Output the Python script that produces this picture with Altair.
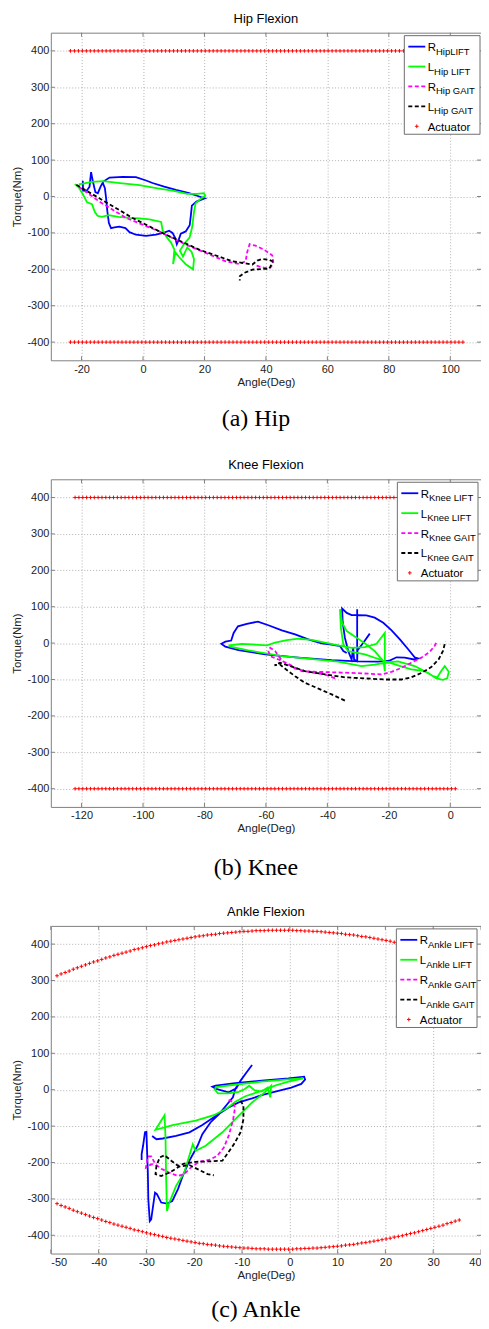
import altair as alt
import pandas as pd

# ---------------- data ----------------
Y_TICKS = [-400, -300, -200, -100, 0, 100, 200, 300, 400]
HIP_X_TICKS = [-20, 0, 20, 40, 60, 80, 100]
KNEE_X_TICKS = [-120, -100, -80, -60, -40, -20, 0]
ANKLE_X_TICKS = [-50, -40, -30, -20, -10, 0, 10, 20, 30, 40]

# Hip
HIP_R_LIFT_ANGLE = [-19.6, -19.5, -18.3, -17.4, -16.9, -16.3, -15.5, -14.7, -13.8, -13.1, -12.4, -12.0, -11.6, -11.1, -10.4, -9.3, -7.7, -5.7, -4.4, -2.3, 1.0, 4.2, 6.9, 8.5, 9.6, 10.5, 11.0, 11.6, 12.3, 13.9, 15.2, 15.6, 15.9, 17.4, 20.1, 18.3, 15.0, 10.7, 6.9, 3.1, 1.0, -2.3, -6.6, -10.9, -12.9, -13.8]
HIP_R_LIFT_TORQUE = [43, 16, 16, 27, 67, 41, 12, 9, 27, 38, 23, -5, -41, -73, -87, -85, -83, -87, -98, -105, -108, -105, -99, -94, -100, -114, -131, -119, -102, -96, -79, -50, -25, -14, -5, 0, 9, 18, 27, 37, 44, 53, 54, 52, 41, 27]
HIP_L_LIFT_ANGLE = [-22.2, -20.9, -19.5, -18.2, -16.6, -15.7, -14.8, -13.4, -11.2, -8.0, -4.3, -1.1, 2.1, 5.9, 6.4, 7.7, 9.1, 10.2, 9.8, 10.5, 11.8, 13.9, 16.3, 16.6, 15.8, 14.4, 13.0, 12.0, 13.4, 15.2, 16.0, 16.6, 17.1, 18.7, 20.3, 19.8, 17.6, 14.4, 9.6, 4.3, -1.1, -7.5, -12.8, -16.6, -18.7, -20.9]
HIP_L_LIFT_TORQUE = [34, 25, 5, -16, -21, -42, -53, -56, -51, -56, -59, -60, -63, -70, -93, -112, -126, -146, -186, -153, -167, -186, -200, -172, -152, -140, -165, -149, -130, -112, -84, -42, -19, -7, 2, 9, 7, 7, 16, 23, 31, 37, 42, 40, 37, 33]
HIP_R_GAIT_ANGLE = [-20.9, -14.2, -5.5, 5.3, 13.9, 20.4, 26.9, 31.2, 33.4, 33.9, 34.7, 36.6, 39.4, 42.1, 42.4, 41.5, 39.4, 36.6]
HIP_R_GAIT_TORQUE = [27, -14, -59, -96, -132, -155, -178, -185, -178, -153, -131, -135, -146, -162, -183, -195, -196, -189]
HIP_L_GAIT_ANGLE = [-21.7, -14.2, -3.4, 7.5, 18.3, 29.1, 35.6, 37.2, 38.8, 41.0, 42.1, 41.5, 41.0, 38.8, 35.6, 32.9, 31.5, 31.5]
HIP_L_GAIT_TORQUE = [32, -5, -59, -105, -146, -178, -187, -176, -172, -174, -178, -192, -199, -199, -201, -210, -219, -231]
HIP_ACT_ANGLE = [-23.6, -22.31, -21.02, -19.73, -18.44, -17.15, -15.86, -14.57, -13.28, -11.99, -10.7, -9.41, -8.12, -6.83, -5.54, -4.25, -2.96, -1.67, -0.38, 0.91, 2.2, 3.49, 4.78, 6.07, 7.36, 8.65, 9.94, 11.23, 12.52, 13.81, 15.1, 16.39, 17.68, 18.97, 20.26, 21.55, 22.84, 24.13, 25.42, 26.71, 28.0, 29.29, 30.58, 31.87, 33.16, 34.45, 35.74, 37.03, 38.32, 39.61, 40.9, 42.19, 43.48, 44.77, 46.06, 47.35, 48.64, 49.93, 51.22, 52.51, 53.8, 55.09, 56.38, 57.67, 58.96, 60.25, 61.54, 62.83, 64.12, 65.41, 66.7, 67.99, 69.28, 70.57, 71.86, 73.15, 74.44, 75.73, 77.02, 78.31, 79.6, 80.89, 82.18, 83.47, 84.76, 86.05, 87.34, 88.63, 89.92, 91.21, 92.5, 93.79, 95.08, 96.37, 97.66, 98.95, 100.24, 101.53, 102.82, 104.11]
HIP_ACT_TORQUE = 400

# Knee
KNEE_R_LIFT_ANGLE = [-26.2, -28.3, -30.2, -30.3, -30.3, -30.3, -31.3, -31.6, -32.1, -33.2, -34.3, -35.0, -35.2, -33.7, -32.1, -30.0, -27.3, -24.6, -21.8, -19.1, -16.4, -13.7, -11.6, -10.5, -11.8, -14.8, -17.5, -19.7, -23.5, -30.0, -38.6, -49.4, -60.2, -68.9, -73.2, -74.5, -73.2, -71.3, -70.5, -69.1, -66.2, -62.6, -59.2, -54.8, -50.5, -46.2, -41.9, -38.6, -35.9, -34.8, -33.7]
KNEE_R_LIFT_TORQUE = [26, 1, -20, -50, 93, -50, -45, -13, -45, -22, 15, 56, 95, 83, 77, 77, 76, 70, 56, 35, 10, -17, -39, -42, -45, -40, -39, -48, -51, -50, -47, -40, -31, -19, -10, -2, 4, 7, 28, 46, 53, 59, 49, 35, 24, 10, -1, -4, -8, -22, -27]
KNEE_L_LIFT_ANGLE = [-72.1, -67.8, -59.7, -57.0, -53.2, -49.4, -45.1, -40.8, -36.5, -32.1, -27.8, -24.0, -21.3, -21.3, -21.7, -24.6, -27.3, -30.5, -33.7, -35.2, -35.9, -35.6, -34.8, -33.2, -27.8, -22.9, -17.0, -12.7, -8.3, -5.6, -4.2, -3.1, -1.8, -0.5, -1.0, -2.4, -4.5, -7.2, -11.6, -17.0, -21.3, -24.6, -28.9, -36.5, -44.0, -54.8, -65.7, -71.6, -72.1]
KNEE_L_LIFT_TORQUE = [-6, -2, -6, 1, 8, 12, 9, 1, -6, -13, -11, -2, 28, -77, -50, -22, -4, 15, 33, 56, 93, 42, -4, -22, -31, -45, -61, -72, -77, -91, -94, -79, -63, -79, -97, -101, -97, -82, -63, -50, -54, -59, -63, -51, -45, -36, -20, -10, -6]
KNEE_R_GAIT_ANGLE = [-37.5, -40.8, -46.2, -50.5, -54.3, -55.9, -57.0, -58.6, -59.2, -58.6, -55.9, -52.7, -48.4, -42.9, -35.4, -28.9, -22.4, -19.1, -15.9, -12.7, -9.4, -6.7, -5.1, -4.2]
KNEE_R_GAIT_TORQUE = [-97, -86, -79, -70, -51, -36, -22, -13, -22, -36, -45, -57, -77, -79, -81, -83, -86, -79, -68, -54, -40, -24, -8, 7]
KNEE_L_GAIT_ANGLE = [-34.3, -38.6, -42.9, -47.3, -50.5, -53.5, -55.4, -57.2, -55.4, -52.1, -47.3, -40.8, -34.3, -27.8, -21.3, -15.9, -12.7, -9.4, -6.2, -3.8, -2.4, -1.6]
KNEE_L_GAIT_TORQUE = [-158, -141, -125, -109, -91, -72, -59, -61, -54, -63, -77, -86, -94, -97, -100, -100, -94, -82, -66, -45, -22, 4]
KNEE_ACT_ANGLE = [-122.1, -120.85, -119.6, -118.35, -117.1, -115.85, -114.6, -113.35, -112.1, -110.85, -109.6, -108.35, -107.1, -105.85, -104.6, -103.35, -102.1, -100.85, -99.6, -98.35, -97.1, -95.85, -94.6, -93.35, -92.1, -90.85, -89.6, -88.35, -87.1, -85.85, -84.6, -83.35, -82.1, -80.85, -79.6, -78.35, -77.1, -75.85, -74.6, -73.35, -72.1, -70.85, -69.6, -68.35, -67.1, -65.85, -64.6, -63.35, -62.1, -60.85, -59.6, -58.35, -57.1, -55.85, -54.6, -53.35, -52.1, -50.85, -49.6, -48.35, -47.1, -45.85, -44.6, -43.35, -42.1, -40.85, -39.6, -38.35, -37.1, -35.85, -34.6, -33.35, -32.1, -30.85, -29.6, -28.35, -27.1, -25.85, -24.6, -23.35, -22.1, -20.85, -19.6, -18.35, -17.1, -15.85, -14.6, -13.35, -12.1, -10.85, -9.6, -8.35, -7.1, -5.85, -4.6, -3.35, -2.1, -0.85, 0.4, 1.65]
KNEE_ACT_TORQUE = 400

# Ankle
ANKLE_R_LIFT_ANGLE = [-31.0, -31.0, -30.7, -30.3, -30.0, -29.9, -29.7, -29.6, -29.3, -29.0, -28.6, -28.2, -27.8, -26.9, -25.7, -24.6, -23.4, -22.4, -21.0, -19.3, -18.3, -16.6, -14.8, -12.8, -11.9, -11.4, -10.3, -9.3, -7.9, -9.3, -10.3, -11.2, -12.8, -15.4, -16.2, -15.5, -11.4, -5.9, -0.3, 3.0, 3.2, 2.4, 0.3, -2.4, -5.9, -7.9, -10.7, -12.8, -15.5, -18.3, -21.0, -23.8, -26.6, -27.9, -28.8]
ANKLE_R_LIFT_TORQUE = [-193, -177, -154, -117, -116, -154, -228, -301, -361, -356, -319, -283, -287, -310, -313, -306, -273, -237, -195, -154, -122, -90, -67, -35, -21, 2, 25, 43, 68, 43, 25, 4, -7, 2, 8, 11, 18, 25, 31, 36, 28, 16, 6, -3, -15, -24, -35, -49, -72, -97, -117, -127, -134, -136, -127]
ANKLE_L_LIFT_ANGLE = [-25.7, -25.9, -26.0, -26.2, -28.1, -24.5, -19.7, -15.9, -13.1, -11.4, -9.3, -5.9, -3.1, -0.3, 2.8, -1.0, -5.9, -10.7, -15.4, -15.7, -15.0, -12.8, -10.7, -9.4, -8.5, -7.4, -5.9, -4.6, -4.1, -3.9, -5.2, -7.9, -11.4, -14.1, -17.6, -19.7, -20.3, -22.1, -23.8, -25.2, -25.7]
ANKLE_L_LIFT_TORQUE = [-333, -228, -136, -70, -110, -97, -85, -70, -51, -33, -18, -3, 11, 22, 31, 28, 22, 15, 7, 0, -10, -10, -6, 2, 11, -1, -5, 6, -21, 11, -7, -35, -81, -117, -154, -168, -150, -228, -264, -310, -333]
ANKLE_R_GAIT_ANGLE = [-12.8, -11.7, -11.5, -11.9, -12.8, -13.8, -15.2, -16.9, -19.0, -20.7, -22.1, -23.4, -25.2, -26.9, -28.1, -29.0, -29.7, -30.1, -29.3, -28.3]
ANKLE_R_GAIT_TORQUE = [-28, -35, -53, -85, -127, -159, -182, -193, -198, -214, -232, -237, -228, -217, -205, -183, -183, -214, -207, -202]
ANKLE_L_GAIT_ANGLE = [-10.3, -9.7, -9.7, -10.3, -11.7, -13.4, -14.1, -16.9, -19.7, -22.1, -23.4, -24.8, -26.2, -27.2, -27.9, -28.1, -26.9, -25.2, -23.1, -21.0, -19.0, -17.2, -15.9]
ANKLE_L_GAIT_TORQUE = [-30, -44, -81, -117, -150, -182, -195, -197, -198, -203, -209, -195, -180, -186, -209, -232, -237, -228, -211, -207, -220, -232, -235]
ANKLE_ACT_ANGLE = [-48.7, -47.85, -47.0, -46.15, -45.3, -44.45, -43.6, -42.75, -41.9, -41.05, -40.2, -39.35, -38.5, -37.65, -36.8, -35.95, -35.1, -34.25, -33.4, -32.55, -31.7, -30.85, -30.0, -29.15, -28.3, -27.45, -26.6, -25.75, -24.9, -24.05, -23.2, -22.35, -21.5, -20.65, -19.8, -18.95, -18.1, -17.25, -16.4, -15.55, -14.7, -13.85, -13.0, -12.15, -11.3, -10.45, -9.6, -8.75, -7.9, -7.05, -6.2, -5.35, -4.5, -3.65, -2.8, -1.95, -1.1, -0.25, 0.6, 1.45, 2.3, 3.15, 4.0, 4.85, 5.7, 6.55, 7.4, 8.25, 9.1, 9.95, 10.8, 11.65, 12.5, 13.35, 14.2, 15.05, 15.9, 16.75, 17.6, 18.45, 19.3, 20.15, 21.0, 21.85, 22.7, 23.55, 24.4, 25.25, 26.1, 26.95, 27.8, 28.65, 29.5, 30.35, 31.2, 32.05, 32.9, 33.75, 34.6, 35.45]
ANKLE_ACT_TORQUE = [313, 318, 322, 326, 331, 335, 339, 343, 347, 351, 354, 358, 362, 365, 369, 372, 375, 378, 381, 385, 387, 390, 393, 396, 398, 401, 403, 406, 408, 410, 412, 414, 416, 418, 420, 422, 423, 425, 426, 427, 429, 430, 431, 432, 433, 434, 435, 435, 436, 437, 437, 437, 438, 438, 438, 438, 438, 438, 438, 437, 437, 436, 436, 435, 435, 434, 433, 432, 431, 430, 429, 427, 426, 425, 423, 421, 420, 418, 416, 414, 412, 410, 408, 405, 403, 401, 398, 395, 393, 390, 387, 384, 381, 378, 375, 372, 368, 365, 361, 358]

# ---------------- styling ----------------
FONT = "Liberation Sans"
SERIF = "Liberation Serif"
W, H = 432, 329
TICK_LEN = 4
FRAME = "#808080"
BLUE, GREEN, MAGENTA, BLACK, RED = "#0000ff", "#00ff00", "#ff00ff", "#000000", "#ff0000"
DASH = [4, 2.5]
PLUS = "M-1,0L1,0M0,-1L0,1"
ONE = pd.DataFrame({"k": [0]})


def series_df(a, t):
    return pd.DataFrame({"angle": a, "torque": t, "i": list(range(len(a)))})


def panel(title, caption, cap_y, xdom, xticks, series, act_df, subs, box_x1, box_x2):
    xs = alt.Scale(domain=xdom, nice=False, zero=False)
    ys = alt.Scale(domain=[-450, 450], nice=False, zero=False)
    xe = alt.X("angle:Q", scale=xs,
               axis=alt.Axis(values=xticks, title="Angle(Deg)", labelExpr="'' + datum.value"))
    ye = alt.Y("torque:Q", scale=ys,
               axis=alt.Axis(values=Y_TICKS, title="Torque(Nm)", labelExpr="'' + datum.value"))
    layers = [
        alt.Chart(act_df).mark_point(shape=PLUS, size=14, stroke=RED, strokeWidth=1,
                                     filled=False, opacity=1).encode(x=xe, y=ye)
    ]
    styles = [(BLUE, None), (GREEN, None), (MAGENTA, DASH), (BLACK, DASH)]
    for (a, t), (c, d) in zip(series, styles):
        kw = dict(color=c, strokeWidth=1.8)
        if d:
            kw["strokeDash"] = d
        layers.append(alt.Chart(series_df(a, t)).mark_line(**kw).encode(
            x=xe, y=ye, order=alt.Order("i:Q")))

    # matlab-style inward ticks on all four sides of the box
    xt = pd.DataFrame({"angle": xticks})
    yt = pd.DataFrame({"torque": Y_TICKS})
    for y1, y2 in [(H, H - TICK_LEN), (0, TICK_LEN)]:
        layers.append(alt.Chart(xt).mark_rule(color=FRAME, strokeWidth=1).encode(
            x=xe, y=alt.value(y1), y2=alt.value(y2)))
    for x1, x2 in [(0, TICK_LEN), (W, W - TICK_LEN)]:
        layers.append(alt.Chart(yt).mark_rule(color=FRAME, strokeWidth=1).encode(
            y=ye, x=alt.value(x1), x2=alt.value(x2)))

    # legend box (matlab-style, with subscripts)
    layers.append(alt.Chart(ONE).mark_rect(fill="white", stroke="#6e6e6e", strokeWidth=1).encode(
        x=alt.value(box_x1), x2=alt.value(box_x2), y=alt.value(3), y2=alt.value(102)))
    rows = [14, 34, 54, 74, 94]
    lx1, lx2 = box_x1 + 4, box_x1 + 21
    tx = box_x1 + 23.5
    mains = ["R", "L", "R", "L"]
    mainw = {"R": 8.3, "L": 6.4}
    for r, (c, d), m, s in zip(rows, styles, mains, subs):
        kw = dict(color=c, strokeWidth=1.8)
        if d:
            kw["strokeDash"] = d
        layers.append(alt.Chart(ONE).mark_rule(**kw).encode(
            x=alt.value(lx1), x2=alt.value(lx2), y=alt.value(r)))
        layers.append(alt.Chart(ONE).mark_text(text=m, align="left", baseline="alphabetic",
                                               font=FONT, fontSize=11.5, color="black").encode(
            x=alt.value(tx), y=alt.value(r + 4.5)))
        layers.append(alt.Chart(ONE).mark_text(text=s, align="left", baseline="alphabetic",
                                               font=FONT, fontSize=9.5, color="black").encode(
            x=alt.value(tx + mainw[m]), y=alt.value(r + 8)))
    layers.append(alt.Chart(ONE).mark_point(shape=PLUS, size=14, stroke=RED, strokeWidth=1,
                                            filled=False, opacity=1).encode(
        x=alt.value(lx1 + 8.5), y=alt.value(rows[4])))
    layers.append(alt.Chart(ONE).mark_text(text="Actuator", align="left", baseline="alphabetic",
                                           font=FONT, fontSize=11.5, color="black").encode(
        x=alt.value(tx), y=alt.value(rows[4] + 4.5)))
    # caption below
    layers.append(alt.Chart(ONE).mark_text(text=caption, align="center", baseline="middle",
                                           font=SERIF, fontSize=24, color="black").encode(
        x=alt.value(206), y=alt.value(cap_y)))
    return alt.layer(*layers).properties(width=W, height=H, title=alt.TitleParams(title))


hip_act = pd.DataFrame({"angle": HIP_ACT_ANGLE * 2,
                        "torque": [HIP_ACT_TORQUE] * len(HIP_ACT_ANGLE) + [-HIP_ACT_TORQUE] * len(HIP_ACT_ANGLE)})
knee_act = pd.DataFrame({"angle": KNEE_ACT_ANGLE * 2,
                         "torque": [KNEE_ACT_TORQUE] * len(KNEE_ACT_ANGLE) + [-KNEE_ACT_TORQUE] * len(KNEE_ACT_ANGLE)})
ankle_act = pd.DataFrame({"angle": ANKLE_ACT_ANGLE * 2,
                          "torque": ANKLE_ACT_TORQUE + [-v for v in ANKLE_ACT_TORQUE]})

hip = panel("Hip Flexion", "(a) Hip", 388, [-30, 110], HIP_X_TICKS,
            [(HIP_R_LIFT_ANGLE, HIP_R_LIFT_TORQUE), (HIP_L_LIFT_ANGLE, HIP_L_LIFT_TORQUE),
             (HIP_R_GAIT_ANGLE, HIP_R_GAIT_TORQUE), (HIP_L_GAIT_ANGLE, HIP_L_GAIT_TORQUE)],
            hip_act, ["HipLIFT", "Hip LIFT", "Hip GAIT", "Hip GAIT"], 355, 431)
knee = panel("Knee Flexion", "(b) Knee", 390, [-130, 10], KNEE_X_TICKS,
             [(KNEE_R_LIFT_ANGLE, KNEE_R_LIFT_TORQUE), (KNEE_L_LIFT_ANGLE, KNEE_L_LIFT_TORQUE),
              (KNEE_R_GAIT_ANGLE, KNEE_R_GAIT_TORQUE), (KNEE_L_GAIT_ANGLE, KNEE_L_GAIT_TORQUE)],
             knee_act, ["Knee LIFT", "Knee LIFT", "Knee GAIT", "Knee GAIT"], 348, 429)
ankle = panel("Ankle Flexion", "(c) Ankle", 386, [-50, 40], ANKLE_X_TICKS,
              [(ANKLE_R_LIFT_ANGLE, ANKLE_R_LIFT_TORQUE), (ANKLE_L_LIFT_ANGLE, ANKLE_L_LIFT_TORQUE),
               (ANKLE_R_GAIT_ANGLE, ANKLE_R_GAIT_TORQUE), (ANKLE_L_GAIT_ANGLE, ANKLE_L_GAIT_TORQUE)],
              ankle_act, ["Ankle LIFT", "Ankle LIFT", "Ankle GAIT", "Ankle GAIT"], 347, 428)

chart = alt.vconcat(hip, knee, ankle, spacing=119.5, bounds="flush").properties(
    padding={"left": 3, "top": 1, "right": -1, "bottom": 0}
).configure_axis(
    labelFont=FONT, labelFontSize=11, labelColor="#222222",
    titleFont=FONT, titleFontSize=11.5, titleFontWeight="normal", titleColor="#222222",
    gridColor="#a8a8a8", gridDash=[1, 2], gridWidth=0.9,
    domain=False, ticks=False, labelPadding=3
).configure_axisY(labelPadding=2, titlePadding=4).configure_axisX(titlePadding=2).configure_view(
    stroke=FRAME, strokeWidth=1
).configure_title(font=FONT, fontSize=13, fontWeight="normal", color="black", offset=6.5)

chart.save("out.html", embed_options={"renderer": "svg", "actions": False})
